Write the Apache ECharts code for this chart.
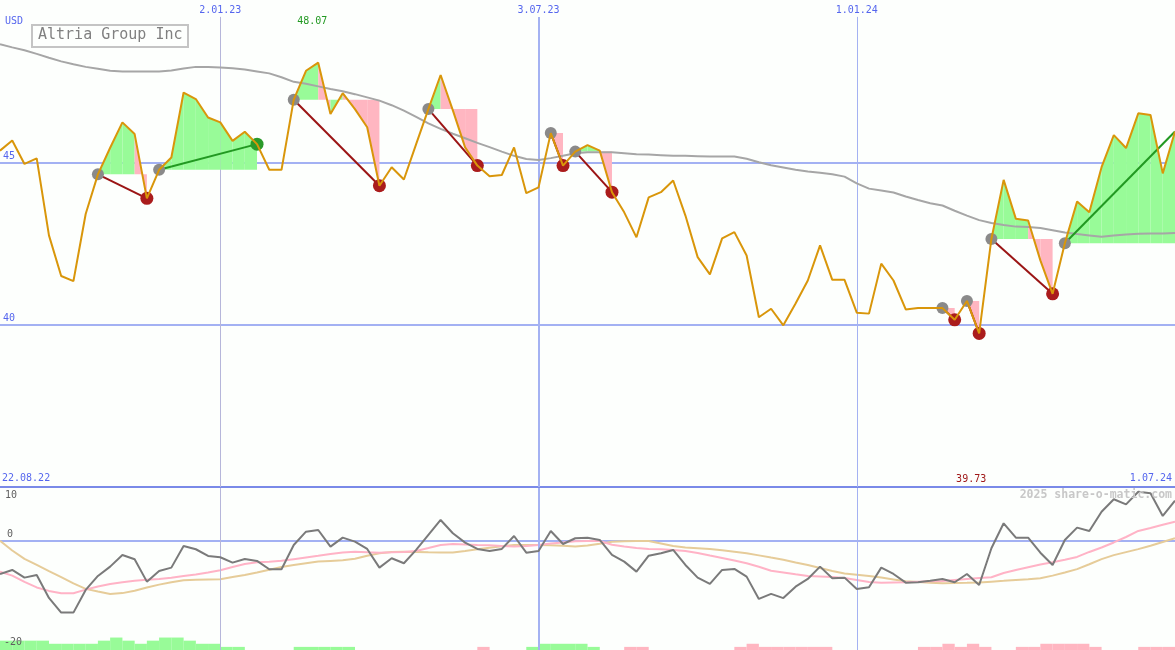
<!DOCTYPE html>
<html><head><meta charset="utf-8">
<script src="https://cdn.jsdelivr.net/npm/echarts@6/dist/echarts.min.js"></script>
<style>html,body{margin:0;padding:0;background:#fdfffd;}#c{width:1175px;height:650px;}</style>
</head><body><div id="c"></div>
<script>
// weekly closes, index 1 = 29.08.22 ... 97 = 1.07.24
const price = [45.36,45.67,44.95,45.12,42.75,41.50,41.34,43.41,44.63,45.45,
46.23,45.87,43.89,44.77,45.15,47.15,46.95,46.38,46.23,45.66,
45.94,45.56,44.77,44.77,46.93,47.82,48.07,46.49,47.13,46.64,
46.08,44.28,44.85,44.47,45.56,46.64,47.69,46.60,45.46,44.90,
44.57,44.61,45.46,44.05,44.23,45.90,44.90,45.33,45.53,45.36,
44.08,43.46,42.69,43.92,44.08,44.44,43.36,42.08,41.55,42.66,
42.85,42.13,40.23,40.49,39.98,40.65,41.36,42.44,41.38,41.38,
40.37,40.34,41.88,41.36,40.47,40.51,40.51,40.51,40.15,40.73,
39.73,42.64,44.46,43.26,43.21,41.98,40.95,42.51,43.79,43.46,
44.85,45.84,45.44,46.51,46.46,44.66,45.95];
const movingAvg = [48.64,48.54,48.45,48.34,48.22,48.11,48.02,47.94,47.88,47.82,
47.80,47.80,47.80,47.80,47.83,47.89,47.94,47.94,47.92,47.90,
47.86,47.80,47.74,47.62,47.48,47.42,47.34,47.26,47.19,47.10,
47.00,46.90,46.76,46.59,46.40,46.20,46.03,45.88,45.74,45.60,
45.47,45.33,45.20,45.10,45.07,45.13,45.20,45.28,45.31,45.31,
45.31,45.28,45.25,45.24,45.22,45.20,45.20,45.19,45.18,45.18,
45.18,45.11,45.00,44.91,44.84,44.77,44.72,44.68,44.63,44.56,
44.35,44.19,44.13,44.07,43.95,43.84,43.74,43.67,43.51,43.36,
43.22,43.13,43.07,43.02,43.01,42.98,42.91,42.84,42.79,42.75,
42.71,42.75,42.78,42.80,42.81,42.81,42.82];
const oscillator = [-6.32,-5.56,-7.02,-6.51,-10.87,-13.66,-13.66,-9.35,-6.70,-4.93,
-2.71,-3.53,-7.78,-5.75,-5.12,-1.01,-1.63,-2.90,-3.15,-4.17,
-3.47,-3.85,-5.43,-5.43,-0.82,1.71,2.03,-1.14,0.57,-0.19,
-1.57,-5.12,-3.34,-4.29,-1.76,1.08,3.93,1.40,-0.38,-1.57,
-1.95,-1.57,0.89,-2.28,-1.95,1.84,-0.63,0.46,0.57,0.13,
-2.71,-3.98,-5.88,-2.85,-2.39,-1.76,-4.61,-7.02,-8.22,-5.56,
-5.37,-6.83,-11.06,-10.11,-10.90,-8.73,-7.27,-4.93,-7.14,-7.02,
-9.17,-8.85,-5.12,-6.32,-7.97,-7.90,-7.59,-7.27,-7.90,-6.32,
-8.41,-1.44,3.30,0.57,0.57,-2.28,-4.61,0.13,2.47,1.84,
5.50,7.86,6.90,9.30,8.99,4.69,7.59];
const signalLine = [-5.88,-6.64,-7.84,-8.88,-9.54,-9.98,-9.98,-9.30,-8.69,-8.22,
-7.91,-7.63,-7.44,-7.27,-7.04,-6.72,-6.41,-6.03,-5.62,-4.99,
-4.42,-4.10,-4.00,-3.83,-3.51,-3.19,-2.87,-2.52,-2.24,-2.11,
-2.20,-2.28,-2.22,-2.14,-1.95,-1.39,-0.82,-0.63,-0.72,-0.82,
-0.89,-1.01,-1.10,-1.01,-0.82,-0.55,-0.34,-0.11,-0.06,-0.06,
-0.76,-1.10,-1.39,-1.57,-1.65,-1.75,-1.95,-2.33,-2.81,-3.28,
-3.78,-4.29,-4.95,-5.71,-6.03,-6.39,-6.70,-6.79,-6.89,-7.08,
-7.46,-7.84,-7.97,-7.93,-7.89,-7.80,-7.72,-7.65,-7.46,-7.27,
-7.08,-6.94,-6.13,-5.56,-5.05,-4.54,-4.08,-3.61,-3.09,-2.14,
-1.29,-0.34,0.70,1.84,2.41,3.02,3.61];
const slowLine = [0.00,-1.86,-3.47,-4.61,-5.79,-6.94,-8.12,-9.15,-9.64,-10.11,
-9.96,-9.51,-8.90,-8.35,-7.89,-7.53,-7.42,-7.36,-7.31,-6.89,
-6.51,-6.05,-5.52,-4.99,-4.61,-4.29,-3.97,-3.85,-3.74,-3.43,
-2.87,-2.39,-2.14,-2.09,-2.14,-2.22,-2.26,-2.26,-1.95,-1.63,
-1.35,-1.08,-0.82,-0.82,-0.82,-0.85,-0.97,-1.10,-0.91,-0.57,
-0.21,-0.11,-0.06,-0.06,-0.53,-1.01,-1.31,-1.44,-1.59,-1.84,
-2.11,-2.39,-2.79,-3.21,-3.62,-4.14,-4.61,-5.18,-5.75,-6.22,
-6.47,-6.72,-7.00,-7.36,-7.72,-7.87,-7.97,-8.08,-8.04,-7.99,
-7.93,-7.78,-7.63,-7.46,-7.31,-7.15,-6.64,-6.05,-5.41,-4.48,
-3.51,-2.75,-2.18,-1.61,-0.95,-0.25,0.46];
// weekly strength blocks at the bottom (+ green, - pink), interval j between week j and j+1
const strength = [3,3,3,3,2,2,2,2,3,4,
3,2,3,4,4,3,2,2,1,1,
0,0,0,0,1,1,1,1,1,0,
0,0,0,0,0,0,0,0,0,-1,
0,0,0,1,2,2,2,2,1,0,
0,-1,-1,0,0,0,0,0,0,0,
-1,-2,-1,-1,-1,-1,-1,-1,0,0,
0,0,0,0,0,-1,-1,-2,-1,-2,
-1,0,0,-1,-1,-2,-2,-2,-2,-1,
0,0,0,-1,-1,-1];
// trades: [entry week, exit week, open]
const trades = [[9,13,0],[14,22,0],[25,32,0],[36,40,0],[46,47,0],[48,51,0],[78,79,0],[80,81,0],[82,87,0],[88,97,1]];
const dateTickIdx = [19,45,71];
const dateTickLabels = ['2.01.23','3.07.23','1.01.24'];
const priceLevels = [45,40];
const startLabel = '22.08.22', endLabel = '1.07.24';
const title = 'Altria Group Inc';

const MONO = '"DejaVu Sans Mono", "Liberation Mono", monospace';
const BLUE = '#5566ee';
const N = price.length;
const pts = a => a.map((v,k)=>[k+1, v]);

const fillData = [], connData = [], entryPts = [], exitRed = [], exitGreen = [];
trades.forEach(([a,b,open]) => {
  const e = price[a-1];
  for (let i=a+1;i<=b;i++) fillData.push([i-1, i, price[i-2], price[i-1], e, price[i-1] > e ? 1 : 0]);
  const profit = price[b-1] > e ? 1 : 0;
  connData.push([a, e, b, price[b-1], profit]);
  entryPts.push([a, e]);
  if (!open) (profit ? exitGreen : exitRed).push([b, price[b-1]]);
});
const barData = strength.map((v,k)=>({value:[k+1.5, Math.abs(v)], itemStyle:{color: v>0 ? '#98fb98' : '#ffb6c1'}})).filter(d=>d.value[1]>0);
const maxP = Math.max(...price), minP = Math.min(...price);
const maxI = price.indexOf(maxP)+1, minI = price.indexOf(minP)+1;

const vLineColors = ['#b6b6da','#a4b2f2','#a4b2f2'];
const vLineWidths = [1,2,1];

const chart = echarts.init(document.getElementById('c'));
chart.setOption({
  animation:false,
  backgroundColor:'#fdfffd',
  grid:[
    {left:0,right:0,top:-1,height:488},
    {left:0,right:0,top:488,height:158},
    {left:0,right:0,top:488,height:162}
  ],
  xAxis:[0,1,2].map(g=>({type:'value',gridIndex:g,min:1,max:N,show:false})),
  yAxis:[
    {type:'value',gridIndex:0,min:35,max:50,show:false},
    {type:'value',gridIndex:1,min:-20,max:10,show:false},
    {type:'value',gridIndex:2,min:0,max:52,show:false}
  ],
  graphic:[
    {type:'text',z:100,left:5,top:16,style:{text:'USD',fill:BLUE,font:'10px '+MONO}},
    {type:'rect',z:100,shape:{x:32,y:25,width:156,height:22},style:{fill:null,stroke:'#c4c4c4',lineWidth:2}},
    {type:'text',z:100,x:38,y:28,style:{text:title,fill:'#808080',font:'15px '+MONO}},
    {type:'text',z:100,x:2,y:473,style:{text:startLabel,fill:BLUE,font:'10px '+MONO}},
    {type:'text',z:100,x:1172,y:473,style:{text:endLabel,fill:BLUE,font:'10px '+MONO,align:'right'}},
    {type:'text',z:100,x:5,y:490,style:{text:'10',fill:'#606060',font:'10px '+MONO}},
    {type:'text',z:100,x:4,y:637,style:{text:'-20',fill:'#606060',font:'10px '+MONO}},
    {type:'text',z:100,x:1172,y:489,style:{text:'2025 share-o-matic.com',fill:'#c8c8c8',font:'bold 11.5px '+MONO,align:'right'}}
  ],
  series:[
    {type:'bar',xAxisIndex:2,yAxisIndex:2,data:barData,barWidth:12.3,z:1,silent:true,
     markLine:{silent:true,symbol:['none','none'],label:{show:false},
       data:dateTickIdx.map((x,k)=>({xAxis:x,lineStyle:{color:vLineColors[k],width:vLineWidths[k],type:'solid'}}))}},
    {type:'custom',xAxisIndex:0,yAxisIndex:0,z:2,silent:true,data:fillData,encode:{x:[0,1],y:[2,3,4]},
     renderItem:(params,api)=>{
       const p0=api.coord([api.value(0),api.value(2)]), p1=api.coord([api.value(1),api.value(3)]);
       const p2=api.coord([api.value(1),api.value(4)]), p3=api.coord([api.value(0),api.value(4)]);
       return {type:'polygon',shape:{points:[p0,p1,p2,p3]},style:{fill:api.value(5)?'#98fb98':'#ffb6c1'}};
     }},
    {type:'line',xAxisIndex:0,yAxisIndex:0,data:pts(movingAvg),showSymbol:false,z:3,silent:true,
     lineStyle:{color:'#a6a6a6',width:2}},
    {type:'custom',xAxisIndex:0,yAxisIndex:0,z:4,silent:true,data:connData,encode:{x:[0,2],y:[1,3]},
     renderItem:(params,api)=>{
       const a=api.coord([api.value(0),api.value(1)]), b=api.coord([api.value(2),api.value(3)]);
       return {type:'line',shape:{x1:a[0],y1:a[1],x2:b[0],y2:b[1]},style:{stroke:api.value(4)?'#229922':'#9b1515',lineWidth:2}};
     }},
    {type:'scatter',xAxisIndex:0,yAxisIndex:0,data:entryPts,symbolSize:12,z:5,silent:true,itemStyle:{color:'#8a8a8a',opacity:1}},
    {type:'scatter',xAxisIndex:0,yAxisIndex:0,data:exitRed,symbolSize:13,z:5,silent:true,itemStyle:{color:'#aa1c1c',opacity:1}},
    {type:'scatter',xAxisIndex:0,yAxisIndex:0,data:exitGreen,symbolSize:13,z:5,silent:true,itemStyle:{color:'#2a9a2a',opacity:1}},
    {type:'line',xAxisIndex:0,yAxisIndex:0,data:pts(price),showSymbol:false,z:6,silent:true,
     lineStyle:{color:'#d9960a',width:2},
     markLine:{silent:true,symbol:['none','none'],z:1,
       data:[
         ...priceLevels.map(v=>({yAxis:v,lineStyle:{color:'#a3b1f3',width:2,type:'solid'},
            label:{show:true,position:'insideStartTop',formatter:String(v),color:BLUE,fontFamily:MONO,fontSize:10,distance:[3,1]}})),
         {yAxis:35,lineStyle:{color:'#7a8ae8',width:2,type:'solid'},label:{show:false}},
         ...dateTickIdx.map((x,k)=>[
           {coord:[x,49.48],lineStyle:{color:vLineColors[k],width:vLineWidths[k],type:'solid'},
            label:{show:true,position:'start',formatter:dateTickLabels[k],color:BLUE,fontFamily:MONO,fontSize:10,distance:1}},
           {coord:[x,35]}])
       ]},
     markPoint:{silent:true,symbol:'circle',symbolSize:0,
       data:[
         {coord:[maxI,49.35],label:{show:true,position:'inside',offset:[-6,0],formatter:maxP.toFixed(2),color:'#229922',fontFamily:MONO,fontSize:10}},
         {coord:[minI,35.24],label:{show:true,position:'inside',offset:[-8,0],formatter:minP.toFixed(2),color:'#a01818',fontFamily:MONO,fontSize:10}}
       ]}},
    {type:'line',xAxisIndex:1,yAxisIndex:1,data:pts(slowLine),showSymbol:false,z:3,silent:true,lineStyle:{color:'#e6cc99',width:2}},
    {type:'line',xAxisIndex:1,yAxisIndex:1,data:pts(signalLine),showSymbol:false,z:4,silent:true,lineStyle:{color:'#ffb3c6',width:2}},
    {type:'line',xAxisIndex:1,yAxisIndex:1,data:pts(oscillator),showSymbol:false,z:5,silent:true,lineStyle:{color:'#7a7a7a',width:2},
     markLine:{silent:true,symbol:['none','none'],z:1,
       data:[{yAxis:0,lineStyle:{color:'#a3b1f3',width:2,type:'solid'},
         label:{show:true,position:'insideStartTop',formatter:'0',color:'#606060',fontFamily:MONO,fontSize:10,distance:[7,1]}}]}}
  ]
});
</script></body></html>
